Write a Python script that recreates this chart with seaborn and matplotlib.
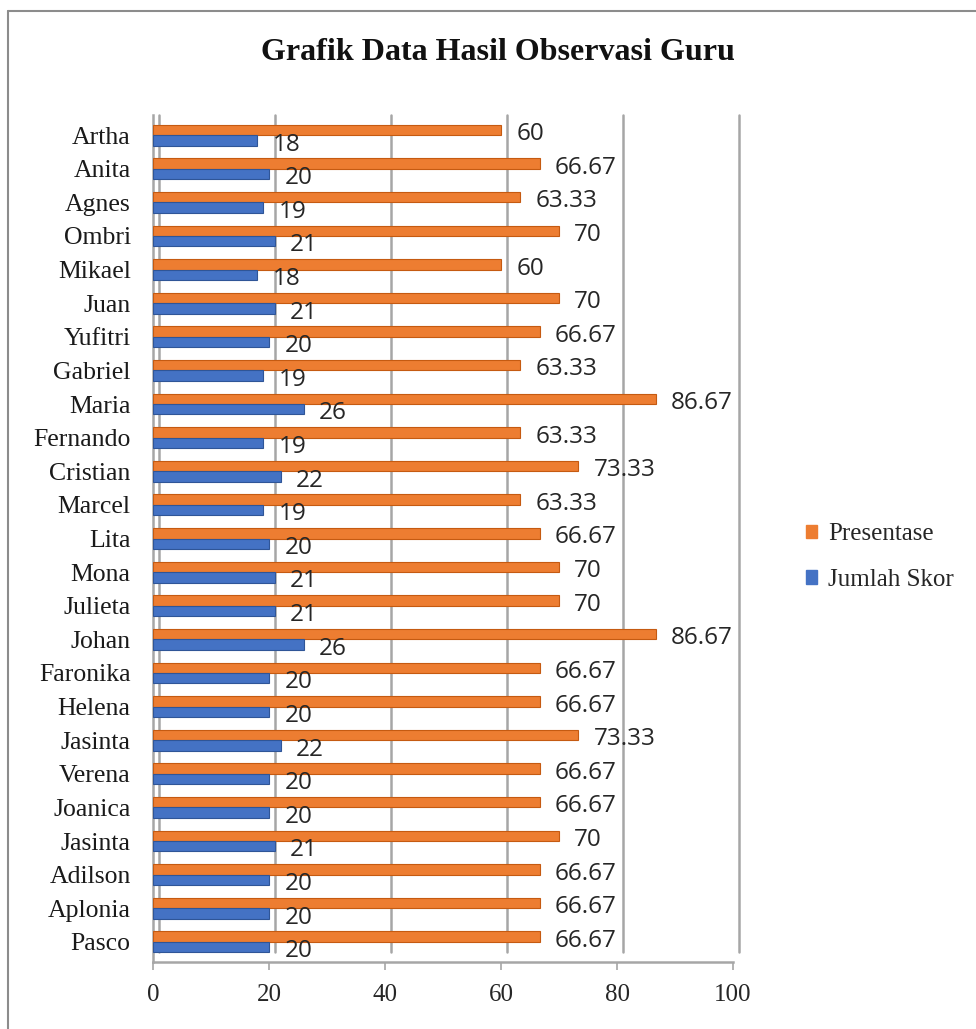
import matplotlib
matplotlib.use("Agg")
import matplotlib.pyplot as plt
import matplotlib.transforms as mtransforms
from matplotlib.patches import Patch
from matplotlib.lines import Line2D
import seaborn as sns
import pandas as pd

names = ["Artha", "Anita", "Agnes", "Ombri", "Mikael", "Juan", "Yufitri", "Gabriel",
         "Maria", "Fernando", "Cristian", "Marcel", "Lita", "Mona", "Julieta", "Johan",
         "Faronika", "Helena", "Jasinta", "Verena", "Joanica", "Jasinta", "Adilson",
         "Aplonia", "Pasco"]
jumlah_skor = [18, 20, 19, 21, 18, 21, 20, 19, 26, 19, 22, 19, 20, 21, 21, 26,
               20, 20, 22, 20, 20, 21, 20, 20, 20]
presentase = [60, 66.67, 63.33, 70, 60, 70, 66.67, 63.33, 86.67, 63.33, 73.33, 63.33,
              66.67, 70, 70, 86.67, 66.67, 66.67, 73.33, 66.67, 66.67, 70, 66.67,
              66.67, 66.67]
series_names = ["Presentase", "Jumlah Skor"]
x_ticks = [0, 20, 40, 60, 80, 100]
title = "Grafik Data Hasil Observasi Guru"

colors = {"Presentase": "#ED7D31", "Jumlah Skor": "#4472C4"}
edge = {"Presentase": "#C55A11", "Jumlah Skor": "#2F5597"}

rows = []
for i in range(len(names)):
    rows.append({"idx": i, "series": "Presentase", "value": presentase[i]})
    rows.append({"idx": i, "series": "Jumlah Skor", "value": jumlah_skor[i]})
df = pd.DataFrame(rows)

sns.set_theme(style="white")
plt.rcParams["font.family"] = ["Liberation Serif", "DejaVu Serif"]

fig = plt.figure(figsize=(9.76, 10.29), dpi=100)
ax = fig.add_axes([153 / 976, 1 - 962 / 1029, 580 / 976, 847 / 1029])

sns.barplot(data=df, y="idx", x="value", hue="series", hue_order=series_names,
            orient="h", palette=colors, width=0.62, ax=ax, legend=False,
            saturation=1, errorbar=None)

for cont, s in zip(ax.containers, series_names):
    for p in cont.patches:
        p.set_edgecolor(edge[s])
        p.set_linewidth(0.8)
        p.set_zorder(3)
    for p in cont.patches:
        v = p.get_width()
        lab = f"{v:g}"
        ax.annotate(lab, (v, p.get_y() + p.get_height() / 2),
                    xytext=(11, -3), textcoords="offset points",
                    ha="left", va="center", fontsize=17.5,
                    family=["Open Sans", "DejaVu Sans"], color="#262626",
                    zorder=4)

ax.set_xlim(0, 100)
ax.set_ylim(24.6, -0.6)
ax.set_xticks(x_ticks)
ax.set_xticklabels([str(t) for t in x_ticks], fontsize=18, color="#262626")
ax.set_yticks(range(len(names)))
ax.set_yticklabels(names, fontsize=18.5, color="#1a1a1a")
ax.set_xlabel("")
ax.set_ylabel("")
ax.tick_params(axis="y", length=0, pad=16)
ax.tick_params(axis="x", length=6, width=1.2, color="#A6A6A6", pad=10, bottom=True)

for sp in ["top", "right"]:
    ax.spines[sp].set_visible(False)
for sp in ["left", "bottom"]:
    ax.spines[sp].set_color("#A6A6A6")
    ax.spines[sp].set_linewidth(1.8)

# back-wall gridlines (slightly offset for the 3D look)
ax.grid(False)
off = mtransforms.ScaledTranslation(6 / 100, 0, fig.dpi_scale_trans)
for t in x_ticks:
    ln = ax.axvline(t, ymin=0.012, ymax=1.0, color="#A6A6A6", linewidth=1.8,
                    zorder=1)
    ln.set_transform(ln.get_transform() + off)
    ln.set_clip_on(False)

fig.text(498 / 976, 1 - 52 / 1029, title, ha="center", va="center", fontsize=23,
         fontweight="bold", color="#111111")

handles = [Patch(facecolor=colors[s], edgecolor=colors[s]) for s in series_names]
fig.legend(handles, series_names, loc="center left",
           bbox_to_anchor=(806 / 976, 1 - 557 / 1029), frameon=False,
           fontsize=18, handlelength=0.45, handleheight=0.45, handletextpad=0.45,
           labelspacing=0.95, borderpad=0, borderaxespad=0)

# chart frame
fig.add_artist(Line2D([8 / 976, 1.0], [1 - 11 / 1029, 1 - 11 / 1029],
                      transform=fig.transFigure, color="#8C8C8C", linewidth=1.5))
fig.add_artist(Line2D([8 / 976, 8 / 976], [0, 1 - 11 / 1029],
                      transform=fig.transFigure, color="#8C8C8C", linewidth=1.5))

fig.savefig("out.png", dpi=100)
